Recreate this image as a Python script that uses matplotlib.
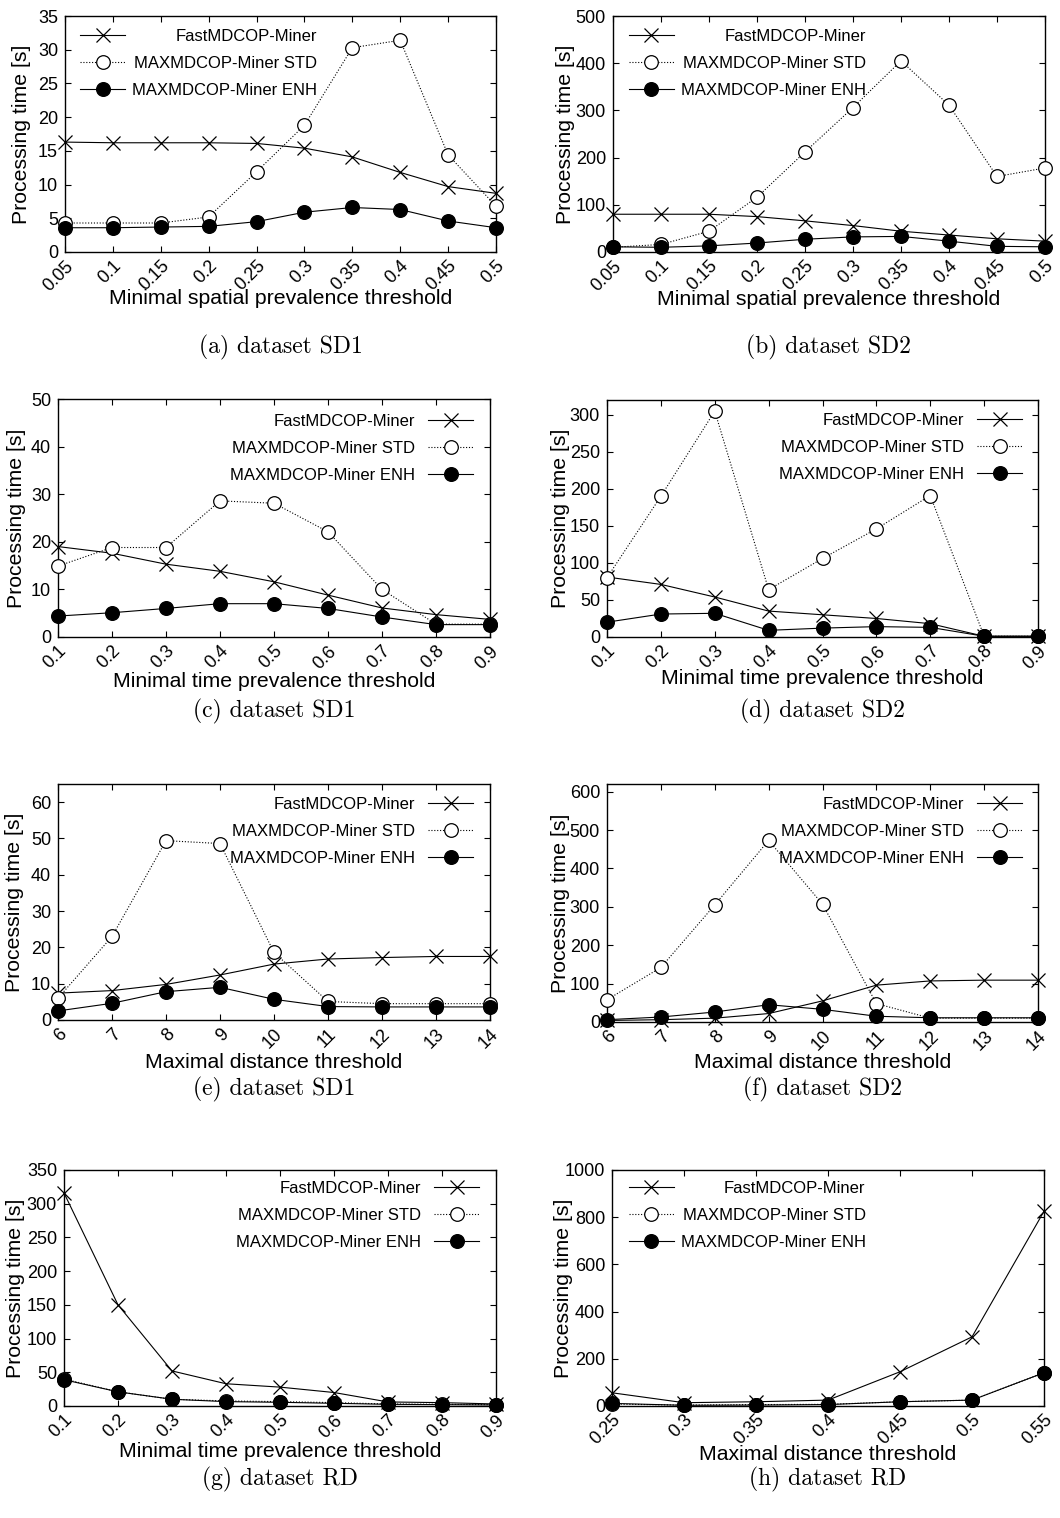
import matplotlib
matplotlib.use("Agg")
import matplotlib.pyplot as plt
from matplotlib.ticker import FixedLocator

plt.rcParams['font.family'] = ['Liberation Sans', 'DejaVu Sans']

# ---------------- data ----------------
x_sp = [0.05, 0.1, 0.15, 0.2, 0.25, 0.3, 0.35, 0.4, 0.45, 0.5]
x_sp_labels = ["0.05", "0.1", "0.15", "0.2", "0.25", "0.3", "0.35", "0.4", "0.45", "0.5"]
x_tp = [0.1, 0.2, 0.3, 0.4, 0.5, 0.6, 0.7, 0.8, 0.9]
x_tp_labels = ["0.1", "0.2", "0.3", "0.4", "0.5", "0.6", "0.7", "0.8", "0.9"]
x_dist = [6, 7, 8, 9, 10, 11, 12, 13, 14]
x_dist_labels = ["6", "7", "8", "9", "10", "11", "12", "13", "14"]
x_rd = [0.25, 0.3, 0.35, 0.4, 0.45, 0.5, 0.55]
x_rd_labels = ["0.25", "0.3", "0.35", "0.4", "0.45", "0.5", "0.55"]

# (a) SD1 spatial prevalence
a_fast = [16.3, 16.2, 16.2, 16.2, 16.1, 15.4, 14.1, 11.8, 9.7, 8.7]
a_std = [4.3, 4.3, 4.3, 5.2, 11.9, 18.8, 30.3, 31.4, 14.4, 6.8]
a_enh = [3.6, 3.6, 3.7, 3.8, 4.5, 5.9, 6.6, 6.3, 4.6, 3.6]
# (b) SD2 spatial prevalence
b_fast = [80, 80, 80, 75, 66, 56, 44, 36, 28, 23]
b_std = [10, 16, 44, 116, 212, 306, 405, 311, 160, 178]
b_enh = [11, 10, 13, 19, 27, 32, 33, 23, 12, 11]
# (c) SD1 time prevalence
c_fast = [19.0, 17.6, 15.3, 13.8, 11.6, 8.8, 6.1, 4.7, 3.7]
c_std = [14.9, 18.8, 18.8, 28.6, 28.1, 22.1, 10.0, 2.7, 2.7]
c_enh = [4.4, 5.1, 6.0, 7.0, 7.0, 6.0, 4.2, 2.6, 2.6]
# (d) SD2 time prevalence
d_fast = [81, 71, 54, 35, 30, 25, 18, 1, 1]
d_std = [80, 190, 305, 64, 106, 146, 191, 1, 1]
d_enh = [20, 31, 32, 9, 12, 14, 13, 1, 1]
# (e) SD1 distance
e_fast = [7.4, 8.1, 9.8, 12.4, 15.4, 16.8, 17.2, 17.5, 17.5]
e_std = [6.0, 23.0, 49.4, 48.6, 18.6, 5.1, 4.5, 4.5, 4.5]
e_enh = [2.5, 4.6, 7.8, 9.0, 5.7, 3.7, 3.6, 3.6, 3.6]
# (f) SD2 distance
f_fast = [4, 6, 10, 22, 55, 96, 107, 109, 109]
f_std = [58, 142, 305, 473, 307, 48, 10, 10, 10]
f_enh = [6, 13, 26, 45, 33, 15, 11, 11, 11]
# (g) RD time prevalence
g_fast = [316, 150, 52, 33, 28, 20, 6, 5, 3]
g_std = [40, 21, 10, 7.5, 6.5, 5, 3, 2.5, 2]
g_enh = [39, 21, 10, 6.5, 5.5, 4, 2.5, 2, 1.5]
# (h) RD distance
h_fast = [56, 14, 18, 25, 145, 293, 825]
h_std = [8, 4, 6, 7, 18, 25, 141]
h_enh = [11, 3, 4, 6, 18, 25, 141]

series_names = ["FastMDCOP-Miner", "MAXMDCOP-Miner STD", "MAXMDCOP-Miner ENH"]
ylabel = "Processing time [s]"
captions = ["(a) dataset SD1", "(b) dataset SD2", "(c) dataset SD1", "(d) dataset SD2",
            "(e) dataset SD1", "(f) dataset SD2", "(g) dataset RD", "(h) dataset RD"]
xlabels = ["Minimal spatial prevalence threshold", "Minimal spatial prevalence threshold",
           "Minimal time prevalence threshold", "Minimal time prevalence threshold",
           "Maximal distance threshold", "Maximal distance threshold",
           "Minimal time prevalence threshold", "Maximal distance threshold"]

W, H = 1060, 1518
fig = plt.figure(figsize=(W / 100, H / 100), dpi=100)

# panel layout in pixels: left, right, top, bottom
boxes = [(65, 496, 16, 252), (613, 1045, 16, 252),
         (58, 490, 399, 637), (607, 1038, 400, 637),
         (58, 490, 784, 1020), (607, 1038, 784, 1022),
         (64, 496, 1170, 1406), (612, 1044, 1170, 1406)]
caption_y = [347, 347, 711, 711, 1089, 1089, 1479, 1479]

panels = [
    (x_sp, x_sp_labels, a_fast, a_std, a_enh, (0, 35), list(range(0, 36, 5))),
    (x_sp, x_sp_labels, b_fast, b_std, b_enh, (0, 500), list(range(0, 501, 100))),
    (x_tp, x_tp_labels, c_fast, c_std, c_enh, (0, 50), list(range(0, 51, 10))),
    (x_tp, x_tp_labels, d_fast, d_std, d_enh, (0, 320), list(range(0, 301, 50))),
    (x_dist, x_dist_labels, e_fast, e_std, e_enh, (0, 65), list(range(0, 61, 10))),
    (x_dist, x_dist_labels, f_fast, f_std, f_enh, (0, 620), list(range(0, 601, 100))),
    (x_tp, x_tp_labels, g_fast, g_std, g_enh, (0, 350), list(range(0, 351, 50))),
    (x_rd, x_rd_labels, h_fast, h_std, h_enh, (0, 1000), list(range(0, 1001, 200))),
]

xlabel_y = [-0.195, -0.203, -0.189, -0.173, -0.178, -0.172, -0.192, -0.205]
ylabel_x = [-0.100, -0.111, -0.097, -0.109, -0.100, -0.109, -0.113, -0.113]
# legend: (markerfirst, anchor_x, anchor_y)
legend_cfg = [(True, 0.035, 0.945), (True, 0.037, 0.945),
              (False, 0.961, 0.937), (False, 0.963, 0.945),
              (False, 0.961, 0.944), (False, 0.963, 0.944),
              (False, 0.961, 0.953), (True, 0.039, 0.953)]

lw = 0.8
ms = 9.8
legends_left = []
for i, (box, pdata) in enumerate(zip(boxes, panels)):
    l, r, t, b = box
    ax = fig.add_axes([l / W, 1 - b / H, (r - l) / W, (b - t) / H])
    xs, xl, fast, std, enh, ylim, yticks = pdata
    ax.plot(xs, fast, color='black', lw=lw, marker='x', ms=ms, mew=0.9,
            clip_on=False, label=series_names[0], zorder=3)
    ax.plot(xs, std, color='black', lw=lw, ls=(0, (1, 1.6)), marker='o', ms=ms,
            mfc='white', mec='black', mew=0.9, clip_on=False, label=series_names[1], zorder=4)
    ax.plot(xs, enh, color='black', lw=lw, marker='o', ms=ms, mfc='black', mec='black',
            clip_on=False, label=series_names[2], zorder=5)
    ax.set_xlim(xs[0], xs[-1])
    ax.set_ylim(*ylim)
    ax.xaxis.set_major_locator(FixedLocator(xs))
    ax.set_xticklabels(xl, rotation=45, ha='right', va='top', rotation_mode='anchor')
    ax.set_yticks(yticks)
    ax.tick_params(direction='in', top=True, right=True, length=4, width=0.8,
                   labelsize=13, pad=5)
    ax.tick_params(axis='x', pad=4)
    for s in ax.spines.values():
        s.set_linewidth(1.0)
    ax.set_xlabel(xlabels[i], fontsize=15.3, va='center')
    ax.xaxis.set_label_coords(0.5, xlabel_y[i])
    ax.set_ylabel(ylabel, fontsize=15.3, va='center')
    ax.yaxis.set_label_coords(ylabel_x[i], 0.5)

    mf, axx, ayy = legend_cfg[i]
    leg = ax.legend(loc='upper left' if mf else 'upper right', bbox_to_anchor=(axx, ayy),
                    markerfirst=mf, frameon=False, fontsize=12, borderpad=0,
                    borderaxespad=0, handlelength=2.7,
                    handletextpad=0.4 if mf else 0.8, labelspacing=0.72)
    if mf:
        legends_left.append(leg)
    # caption
    fig.text((l + r) / 2 / W, 1 - caption_y[i] / H, captions[i], ha='center', va='center',
             fontsize=17, family='cmr10')

# right-justify legend texts for legends with sample first (gnuplot style)
fig.canvas.draw()
rend = fig.canvas.get_renderer()
for leg in legends_left:
    col = leg._legend_handle_box.get_children()[0]
    items = col.get_children()
    w = max(it.get_bbox(rend).width for it in items)
    for it in items:
        it.mode = 'expand'
    col.set_width(w)

fig.savefig("out.png", dpi=100)
